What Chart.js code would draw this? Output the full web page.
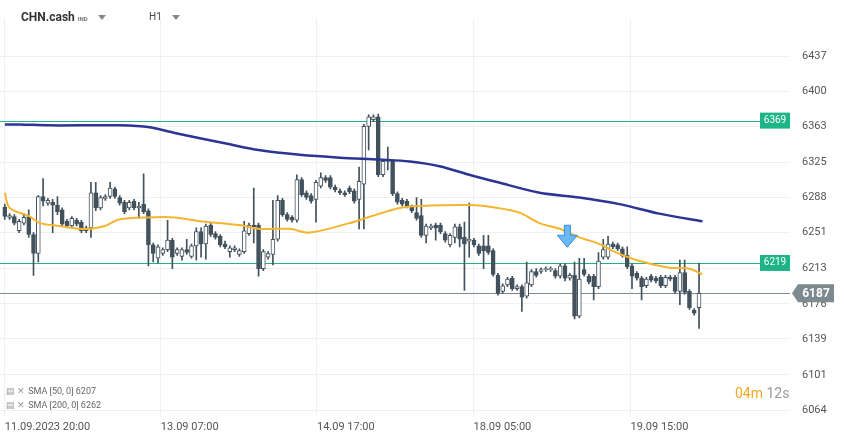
<!DOCTYPE html>
<html>
<head>
<meta charset="utf-8">
<script src="https://cdn.jsdelivr.net/npm/chart.js@4.4.1/dist/chart.umd.min.js"></script>
<style>
  body { margin: 0; background: #fff; font-family: Roboto, "Noto Sans", sans-serif; }
  #wrap { position: relative; width: 859px; height: 439px; }
  .ov { position: absolute; white-space: nowrap; }
  .tri { display: inline-block; width: 0; height: 0; border-left: 4px solid transparent; border-right: 4px solid transparent; border-top: 5px solid #888; margin-left: 10px; vertical-align: middle; }
  .leg { font-size: 9px; color: #666; }
  .leg b { color: #999; font-weight: normal; margin-right: 3px; }
</style>
</head>
<body>
<div id="wrap">
  <canvas id="chart" width="859" height="439"></canvas>
  <div class="ov" style="left:21px;top:10px;font-size:12px;font-weight:bold;color:#333">CHN.cash <span style="font-size:6px;color:#777">IND</span><span class="tri"></span></div>
  <div class="ov" style="left:149px;top:11px;font-size:10px;color:#444">H1<span class="tri"></span></div>
  <div class="ov leg" style="left:6px;top:386px"><b>▤ ✕</b>SMA [50, 0] 6207</div>
  <div class="ov leg" style="left:6px;top:400px"><b>▤ ✕</b>SMA [200, 0] 6262</div>
  <div class="ov" style="left:735px;top:385px;font-size:14px;color:#f5a623">04m <span style="color:#999">12s</span></div>
</div>
<script>
const opens = [6278,6267,6268,6253,6261,6268,6249,6229,6289,6282,6283,6280,6275,6263,6258,6264,6262,6253,6256,6293,6277,6287,6289,6297,6288,6283,6277,6284,6277,6281,6274,6238,6224,6229,6233,6243,6229,6226,6233,6226,6237,6252,6239,6259,6250,6247,6239,6231,6233,6228,6231,6250,6259,6259,6213,6225,6228,6244,6285,6270,6267,6264,6307,6293,6290,6286,6300,6309,6309,6299,6295,6293,6298,6295,6286,6302,6363,6370,6373,6312,6328,6326,6292,6285,6284,6278,6272,6269,6248,6256,6259,6259,6250,6238,6246,6257,6246,6242,6243,6237,6237,6237,6232,6206,6189,6196,6203,6192,6194,6184,6196,6210,6210,6212,6212,6211,6205,6216,6203,6206,6163,6212,6205,6205,6194,6225,6225,6239,6238,6234,6227,6216,6208,6203,6195,6205,6203,6204,6195,6204,6204,6189,6209,6189,6169,6172];
const closes = [6268,6269,6261,6263,6267,6249,6229,6289,6284,6285,6280,6273,6260,6258,6266,6260,6253,6256,6293,6277,6288,6289,6298,6289,6282,6273,6283,6277,6279,6273,6238,6229,6236,6233,6243,6225,6233,6233,6230,6237,6252,6239,6258,6249,6246,6238,6236,6235,6235,6232,6253,6259,6257,6213,6231,6229,6244,6285,6270,6265,6264,6307,6291,6288,6284,6304,6309,6306,6299,6296,6293,6291,6294,6284,6305,6363,6373,6373,6312,6326,6326,6292,6283,6281,6279,6274,6266,6248,6258,6258,6256,6252,6243,6248,6257,6244,6239,6244,6238,6229,6232,6230,6207,6187,6195,6202,6192,6194,6183,6198,6210,6206,6212,6213,6213,6205,6216,6203,6206,6163,6202,6207,6199,6194,6221,6233,6239,6236,6234,6227,6215,6205,6203,6194,6202,6201,6200,6195,6204,6202,6189,6209,6188,6172,6166,6187];
const highs = [6281,6271,6270,6265,6271,6275,6251,6290,6308,6287,6286,6289,6277,6265,6268,6266,6264,6258,6304,6304,6290,6291,6304,6299,6290,6285,6285,6286,6283,6313,6276,6240,6238,6235,6264,6245,6235,6235,6244,6239,6256,6256,6260,6261,6252,6249,6242,6237,6237,6234,6263,6261,6298,6261,6233,6231,6285,6290,6287,6272,6269,6312,6309,6295,6292,6306,6314,6311,6311,6301,6297,6295,6300,6297,6320,6365,6375,6375,6376,6328,6341,6328,6294,6287,6286,6280,6288,6286,6260,6260,6261,6261,6252,6250,6260,6260,6262,6282,6245,6239,6248,6248,6234,6208,6197,6204,6205,6196,6196,6220,6212,6213,6214,6215,6215,6213,6218,6218,6208,6220,6224,6224,6207,6207,6230,6244,6247,6241,6240,6236,6236,6218,6210,6205,6204,6207,6205,6206,6206,6206,6206,6222,6222,6191,6171,6219];
const lows = [6265,6265,6259,6251,6259,6246,6206,6220,6279,6280,6251,6270,6257,6256,6256,6258,6251,6251,6246,6274,6275,6285,6287,6287,6280,6271,6275,6275,6266,6271,6216,6220,6219,6227,6231,6213,6227,6222,6228,6224,6222,6225,6223,6247,6244,6236,6234,6225,6231,6226,6229,6248,6240,6205,6211,6223,6217,6242,6268,6263,6262,6262,6289,6286,6282,6262,6298,6304,6297,6294,6291,6289,6292,6282,6255,6255,6338,6368,6310,6310,6317,6290,6281,6279,6277,6272,6264,6246,6240,6254,6243,6250,6241,6236,6240,6236,6190,6225,6236,6227,6213,6228,6205,6185,6187,6194,6190,6190,6168,6182,6194,6204,6208,6210,6210,6203,6203,6200,6201,6160,6161,6205,6197,6180,6192,6223,6223,6234,6232,6225,6213,6192,6201,6180,6193,6199,6198,6193,6193,6200,6187,6175,6186,6170,6164,6150];

// SMA readings (candle index, value)
const sma50 = [[0,6293],[1,6277],[5.2,6268],[7.3,6261],[11.5,6258],[15.7,6255],[17.7,6255],[20.9,6258],[24,6265],[29.9,6267],[35.5,6267],[40.7,6263],[49,6259],[53,6255],[59.5,6255],[63.7,6251],[72,6261],[75.2,6266],[78.3,6271],[82.5,6277],[86.6,6279],[97,6280],[103,6277],[107.5,6272],[111.7,6261],[115.9,6255],[120,6246],[124.2,6239],[127.3,6231],[132.6,6221],[138.8,6214],[143,6213],[145.7,6207]];
const sma200 = [[0,6365],[3.1,6365],[9.4,6364],[24,6364],[30.3,6362],[35.5,6356],[47,6344],[53,6338],[61.6,6333],[70,6330],[78.3,6328],[84.6,6326],[90.8,6321],[97,6312],[103,6304],[111.7,6293],[120,6288],[128.4,6281],[136.7,6271],[145.7,6263]];

const yTicks = [6064,6101,6139,6176,6213,6251,6288,6325,6363,6400,6437];
const xTickIdx = [0,32.6,65.2,97.9,130.7];
const xTickLabels = ['11.09.2023 20:00','13.09 07:00','14.09 17:00','18.09 05:00','19.09 15:00'];
const levels = [{v:6369, c:'#1db587', label:'6369'}, {v:6219, c:'#1db587', label:'6219'}];
const lastPrice = 6187;

const DARK = '#42515c';
const idx = opens.map((_, i) => i);
const up = opens.map((o, i) => closes[i] >= o);

const linesPlugin = {
  id: 'levels',
  beforeDatasetsDraw(chart) {
    const {ctx, chartArea: a, scales: {y}} = chart;
    ctx.save();
    levels.forEach(l => {
      const py = Math.round(y.getPixelForValue(l.v)) + 0.5;
      ctx.strokeStyle = l.c; ctx.lineWidth = 1.2;
      ctx.beginPath(); ctx.moveTo(a.left, py); ctx.lineTo(a.right, py); ctx.stroke();
    });
    const gy = Math.round(y.getPixelForValue(lastPrice)) + 0.5;
    ctx.strokeStyle = '#7d8a8f'; ctx.lineWidth = 1.2;
    ctx.beginPath(); ctx.moveTo(a.left, gy); ctx.lineTo(a.right, gy); ctx.stroke();
    ctx.restore();
  },
  afterDraw(chart) {
    const {ctx, chartArea: a, scales: {x, y}} = chart;
    ctx.save();
    ctx.font = '10px Roboto';
    ctx.textAlign = 'center'; ctx.textBaseline = 'middle';
    levels.forEach(l => {
      const py = y.getPixelForValue(l.v);
      ctx.fillStyle = l.c;
      ctx.fillRect(a.right - 30, py - 8, 30, 16);
      ctx.fillStyle = '#fff';
      ctx.fillText(l.label, a.right - 15, py);
    });
    const gy = y.getPixelForValue(lastPrice);
    ctx.fillStyle = '#7d8a8f';
    ctx.beginPath();
    ctx.moveTo(a.right + 2, gy); ctx.lineTo(a.right + 8, gy - 9); ctx.lineTo(a.right + 44, gy - 9);
    ctx.lineTo(a.right + 44, gy + 9); ctx.lineTo(a.right + 8, gy + 9); ctx.closePath(); ctx.fill();
    ctx.fillStyle = '#fff'; ctx.font = 'bold 12px Roboto';
    ctx.fillText(String(lastPrice), a.right + 26, gy + 1);
    // down arrow signal
    const ax = x.getPixelForValue(117.5), ay = y.getPixelForValue(6244);
    ctx.fillStyle = '#6cb8f5'; ctx.strokeStyle = '#2d8de0'; ctx.lineWidth = 1;
    ctx.beginPath();
    ctx.moveTo(ax - 3, ay - 14); ctx.lineTo(ax + 3, ay - 14); ctx.lineTo(ax + 3, ay - 4);
    ctx.lineTo(ax + 10, ay - 4); ctx.lineTo(ax, ay + 8); ctx.lineTo(ax - 10, ay - 4);
    ctx.lineTo(ax - 3, ay - 4); ctx.closePath(); ctx.fill(); ctx.stroke();
    ctx.restore();
  }
};

new Chart(document.getElementById('chart'), {
  type: 'bar',
  data: {
    datasets: [{
      type: 'line', label: 'SMA200',
      data: sma200.map(p => ({x: p[0], y: p[1]})),
      borderColor: '#2b3594', borderWidth: 2.5, pointRadius: 0, tension: 0.3, order: 0
    }, {
      type: 'line', label: 'SMA50',
      data: sma50.map(p => ({x: p[0], y: p[1]})),
      borderColor: '#f5b52e', borderWidth: 2, pointRadius: 0, tension: 0.3, order: 1
    }, {
      label: 'body',
      data: idx.map(i => ({x: i, y: [opens[i], closes[i]]})),
      backgroundColor: up.map(u => u ? '#ffffff' : DARK),
      borderColor: DARK, borderWidth: 1, borderSkipped: false,
      barThickness: 4, grouped: false, order: 2
    }, {
      label: 'wick',
      data: idx.map(i => ({x: i, y: [lows[i], highs[i]]})),
      backgroundColor: DARK, barThickness: 1, grouped: false, order: 3
    }]
  },
  options: {
    responsive: false,
    animation: false,
    layout: { padding: 0 },
    plugins: { legend: { display: false }, tooltip: { enabled: false } },
    scales: {
      x: {
        type: 'linear', min: -1, max: 164, offset: false,
        grid: { color: '#f0f0f0', drawTicks: false, offset: false },
        border: { display: false },
        afterBuildTicks: s => { s.ticks = xTickIdx.map(v => ({value: v})); },
        afterFit: s => { s.height = 22; },
        ticks: {
          align: 'start', padding: 4, color: '#555', font: { size: 11, family: 'Roboto' },
          callback: (v, i) => xTickLabels[i]
        }
      },
      y: {
        position: 'right', min: 6056.7, max: 6476.5,
        grid: { color: '#f0f0f0', drawTicks: false },
        border: { display: false },
        afterBuildTicks: s => { s.ticks = yTicks.map(v => ({value: v})); },
        afterFit: s => { s.width = 69; },
        ticks: { padding: 12, color: '#555', font: { size: 11, family: 'Roboto' }, callback: v => String(v) }
      }
    }
  },
  plugins: [linesPlugin]
});
</script>
</body>
</html>
